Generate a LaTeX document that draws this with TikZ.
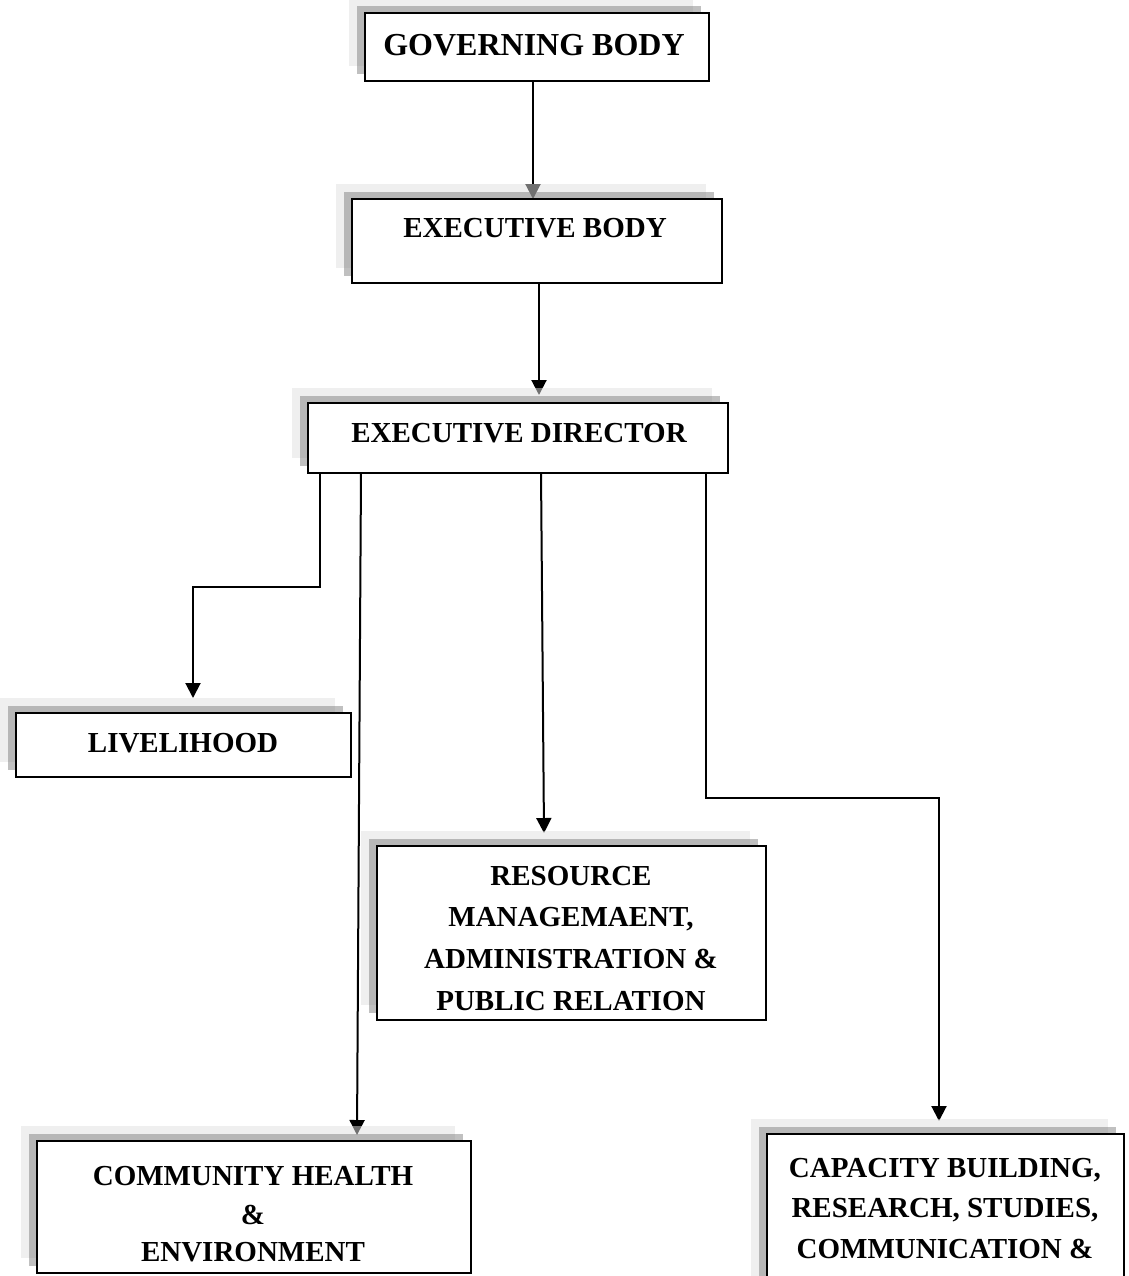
\documentclass[tikz,border=0pt]{standalone}
\usepackage{fontspec}
\setmainfont{Liberation Serif}
\usetikzlibrary{arrows.meta,fit}
\newcommand\shadowfor[1]{%
  \fill[lightsh] ([shift={(-16,-15)}]#1.south west) rectangle ([shift={(-16,-15)}]#1.north east);
  \fill[darksh] ([shift={(-8,-7)}]#1.south west) rectangle ([shift={(-8,-7)}]#1.north east);
  \draw[boxframe] (#1.south west) rectangle (#1.north east);
}
\tikzset{
  boxarea/.style={inner sep=0pt, outer sep=0pt},
  boxframe/.style={draw=black, line width=1pt, fill=white},
  lightsh/.style={fill={rgb,255:red,224;green,224;blue,224}, fill opacity=0.5},
  darksh/.style={fill={rgb,255:red,112;green,112;blue,112}, fill opacity=0.4375},
  conn/.style={draw=black, line width=1pt, -{Triangle[length=7.5pt,width=7.5pt]}},
  lbl/.style={anchor=base, inner sep=0pt, font=\bfseries\fontsize{14.5}{17}\selectfont},
  biglbl/.style={anchor=base, inner sep=0pt, font=\bfseries\fontsize{16}{19}\selectfont},
}
\begin{document}
\begin{tikzpicture}[x=0.5pt, y=-0.5pt]
\useasboundingbox (0,0) rectangle (1129,1276);
\clip (0,0) rectangle (1129,1276);
% box areas
\node[boxarea, fit={(365,13) (709,81)}] (gov) {};
\node[boxarea, fit={(352,199) (722,283)}] (eb) {};
\node[boxarea, fit={(308,403) (728,473)}] (ed) {};
\node[boxarea, fit={(16,713) (351,777)}] (liv) {};
\node[boxarea, fit={(377,846) (766,1020)}] (res) {};
\node[boxarea, fit={(37,1141) (471,1273)}] (com) {};
\node[boxarea, fit={(767,1134) (1124,1320)}] (cap) {};
% connectors
\draw[conn] ([shift={(-4,0)}]gov.south) -- ([shift={(-4,0)}]eb.north);
\draw[conn] ([shift={(2,0)}]eb.south) -- ([shift={(21,-8)}]ed.north);
\draw[conn] ([shift={(-198,0)}]ed.south) -- ++(0,114) -| ([shift={(9.5,-15)}]liv.north);
\draw[conn] ([shift={(-157,0)}]ed.south) -- ([shift={(103,-6)}]com.north);
\draw[conn] ([shift={(23,-2)}]ed.south) -- ([shift={(-27.5,-13)}]res.north);
\draw[conn] ([shift={(188,0)}]ed.south) -- ++(0,325) -| ([shift={(-6.5,-13)}]cap.north);
% shadows and frames
\shadowfor{gov}
\shadowfor{eb}
\shadowfor{ed}
\shadowfor{liv}
\shadowfor{res}
\shadowfor{com}
\shadowfor{cap}
% texts
\node[biglbl] (govt) at (534,55) {GOVERNING BODY};
\node[lbl] (ebt) at (535,237) {EXECUTIVE BODY};
\node[lbl] (edt) at (519,442) {EXECUTIVE DIRECTOR};
\node[lbl] (livt) at (183,752) {LIVELIHOOD};
\node[lbl] (rest1) at (571,885) {RESOURCE};
\node[lbl] (rest2) at (571,926) {MANAGEMAENT,};
\node[lbl] (rest3) at (571,968) {ADMINISTRATION \&};
\node[lbl] (rest4) at (571,1010) {PUBLIC RELATION};
\node[lbl] (comt1) at (253,1185) {COMMUNITY HEALTH};
\node[lbl] (comt2) at (253,1224) {\&};
\node[lbl] (comt3) at (253,1261) {ENVIRONMENT};
\node[lbl] (capt1) at (945,1177) {CAPACITY BUILDING,};
\node[lbl] (capt2) at (945,1217) {RESEARCH, STUDIES,};
\node[lbl] (capt3) at (945,1258) {COMMUNICATION \&};
\end{tikzpicture}
\end{document}
